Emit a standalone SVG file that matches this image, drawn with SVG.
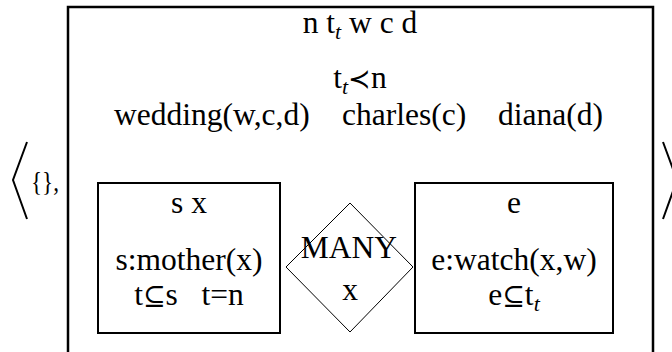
<svg xmlns="http://www.w3.org/2000/svg" width="672" height="352" viewBox="0 0 672 352" font-family="'Liberation Serif', 'Times New Roman', Times, 'DejaVu Serif', serif">
<style>
text { font-family: "Liberation Serif", "Times New Roman", Times, "DejaVu Serif", serif; font-size: 31.5px; fill: #000; }
.c { text-anchor: middle; }
.e { text-anchor: end; }
.sub { font-style: italic; font-size: 22px; }
.sym { font-family: "DejaVu Serif", serif; font-size: 27px; }
.box { fill: none; stroke: #000; stroke-width: 2; }
.outer { fill: none; stroke: #000; stroke-width: 2.5; }
.thin { fill: none; stroke: #000; stroke-width: 1; }
.br { fill: none; stroke: #000; stroke-width: 2; }
</style>
<rect width="672" height="352" fill="#fff"/>
<g id="brackets">
  <polyline class="br" points="27,142 13,180 27,219"/>
  <polyline class="br" points="663,142 677,180 663,219"/>
  <text x="31" y="191" textLength="28" lengthAdjust="spacingAndGlyphs" style="font-size:28px">{},</text>
</g>
<g id="main-drs">
  <path class="outer" d="M68,360 V7 H653 V360"/>
  <text class="c" x="360" y="33">n t<tspan class="sub" dy="6">t</tspan><tspan dy="-6"> w c d</tspan></text>
  <text class="c" x="360" y="88">t<tspan class="sub" dy="6">t</tspan><tspan dy="-6" class="sym">≺</tspan>n</text>
  <text x="114" y="125">wedding(w,c,d)</text>
  <text x="342" y="125">charles(c)</text>
  <text class="e" x="603" y="125">diana(d)</text>
</g>
<g id="left-drs">
  <rect class="box" x="98" y="183" width="182" height="150"/>
  <text class="c" x="189" y="213">s x</text>
  <text class="c" x="189" y="270">s:mother(x)</text>
  <text class="c" x="189" y="305" xml:space="preserve">t<tspan class="sym">⊆</tspan>s   t=n</text>
</g>
<g id="duplex">
  <polygon class="thin" points="350,203 413,267 350,332 286,267"/>
  <text class="c" x="349" y="258">MANY</text>
  <text class="c" x="350" y="300">x</text>
</g>
<g id="right-drs">
  <rect class="box" x="415" y="183" width="198" height="150"/>
  <text class="c" x="514" y="213">e</text>
  <text class="c" x="514" y="270">e:watch(x,w)</text>
  <text class="c" x="514" y="305">e<tspan class="sym">⊆</tspan>t<tspan class="sub" dy="6">t</tspan></text>
</g>
<g id="connectors"/>
</svg>
